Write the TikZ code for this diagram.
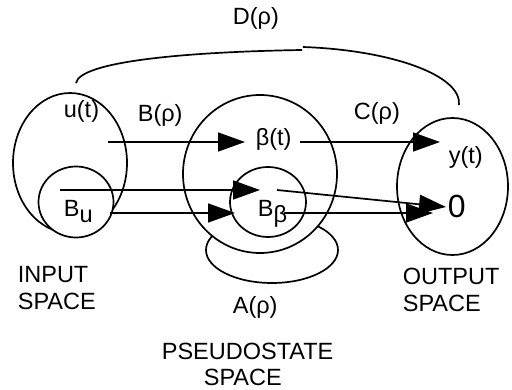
\documentclass[tikz,border=0pt]{standalone}
\usepackage{fontspec}
\setmainfont{Liberation Sans}
\usetikzlibrary{shapes.geometric,arrows.meta}
\begin{document}
\begin{tikzpicture}[x=1pt,y=-1pt,
  every path/.style={line width=1.7pt},
  space/.style={draw, ellipse, inner sep=0pt, line width=1.7pt},
  wspace/.style={space, fill=white},
  lab/.style={inner sep=0pt, anchor=base west, font=\fontsize{23.5}{27}\selectfont},
  big/.style={inner sep=0pt, anchor=base west, font=\fontsize{32}{36}\selectfont},
  arr/.style={-{Triangle[length=27pt,width=19pt]}, line width=1.7pt}]
\useasboundingbox (0,0) rectangle (512,390);
% D(rho) arc
\coordinate (d1) at (76,83);
\coordinate (d2) at (302,50);
\coordinate (d3) at (303,47);
\coordinate (d4) at (459,105);
\draw (d1) .. controls (80,62) and (180,52) .. (d2);
\draw (d3) .. controls (390,50) and (462,75) .. (d4);
% input space
\node[space, minimum width=114pt, minimum height=140pt] (inp) at (70,163) {};
\node[wspace, minimum width=75pt, minimum height=71pt] (bu) at (76,202) {};
% pseudostate space
\node[space, minimum width=132pt, minimum height=66pt] (aloop) at (272,250) {};
\node[wspace, minimum width=154pt, minimum height=158pt] (ps) at (260,174) {};
\node[wspace, minimum width=76pt, minimum height=70pt] (bb) at (268,202) {};
% output space
\node[space, minimum width=111pt, minimum height=137pt] (out) at (452.5,186.5) {};
% arrow end points
\coordinate (a1s) at (108,142); \coordinate (a1e) at (245,142);
\coordinate (a2s) at (300,142); \coordinate (a2e) at (440,142);
\coordinate (a3s) at (60,190);  \coordinate (a3e) at (260,190);
\coordinate (a4s) at (110,213); \coordinate (a4e) at (235,213);
\coordinate (a5s) at (277,190); \coordinate (a5e) at (446,207);
\coordinate (a6s) at (284,213); \coordinate (a6e) at (433,213);
\draw[arr] (a1s) -- (a1e);
\draw[arr] (a2s) -- (a2e);
\draw[arr] (a3s) -- (a3e);
\draw[arr] (a4s) -- (a4e);
\draw[arr] (a6s) -- (a6e);
\draw[arr] (a5s) -- (a5e);
% labels
\node[lab] (dl) at (232,25) {D(ρ)};
\node[lab] (ut) at (63,118) {u(t)};
\node[lab] (bl) at (137,122) {B(ρ)};
\node[lab] (bt) at (255,146) {β(t)};
\node[lab] (cl) at (353,120) {C(ρ)};
\node[lab] (yt) at (448,164) {y(t)};
\node[big] (zero) at (447,218) {0};
\node[lab] (bul) at (63,217) {B\raisebox{-6pt}{u}};
\node[lab] (bbl) at (257,217) {B\raisebox{-6pt}{β}};
\node[lab] (al) at (232,314) {A(ρ)};
\node[lab] (in1) at (17,283) {INPUT};
\node[lab] (in2) at (17,310) {SPACE};
\node[lab] (ou1) at (402,285) {OUTPUT};
\node[lab] (ou2) at (402,312) {SPACE};
\node[lab] (ps1) at (161,360) {PSEUDOSTATE};
\node[lab] (ps2) at (203,386) {SPACE};
\end{tikzpicture}
\end{document}
